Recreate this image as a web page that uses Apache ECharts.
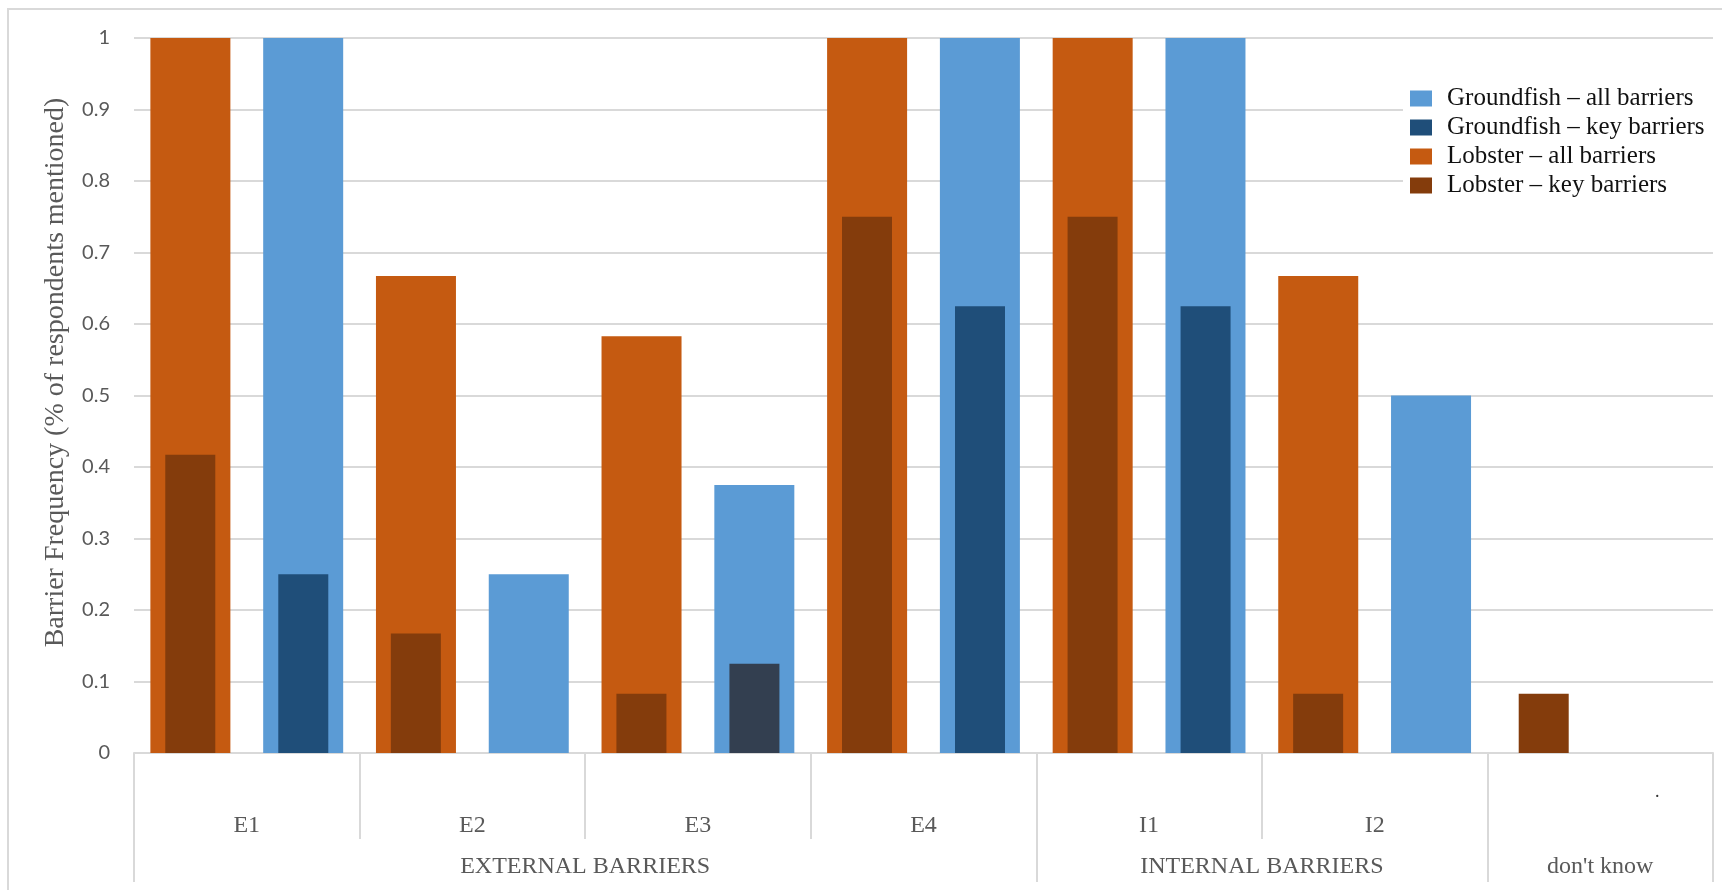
<!DOCTYPE html>
<html><head><meta charset="utf-8">
<script src="https://cdn.jsdelivr.net/npm/echarts@6/dist/echarts.min.js"></script>
<style>html,body{margin:0;padding:0;background:#fff}#c{width:1722px;height:890px}</style>
</head><body><div id="c"></div>
<script>
// ---- data ----
const categories = ['E1', 'E2', 'E3', 'E4', 'I1', 'I2', "don't know"];
const categoryLabels = ['E1', 'E2', 'E3', 'E4', 'I1', 'I2', '.'];
const groupNames = ['EXTERNAL BARRIERS', 'INTERNAL BARRIERS', "don't know"];
const groupSpans = [4, 2, 1];
const lobsterAll = [1, 0.667, 0.583, 1, 1, 0.667, 0];
const lobsterKey = [0.417, 0.167, 0.083, 0.75, 0.75, 0.083, 0.083];
const groundfishAll = [1, 0.25, 0.375, 1, 1, 0.5, 0];
const groundfishKey = [0.25, 0, 0.125, 0.625, 0.625, 0, 0];
const yMin = 0, yMax = 1, yStep = 0.1;
const seriesNames = ['Groundfish \u2013 all barriers', 'Groundfish \u2013 key barriers', 'Lobster \u2013 all barriers', 'Lobster \u2013 key barriers'];

// ---- derived group positions ----
const groupBounds = [0];
groupSpans.forEach(s => groupBounds.push(groupBounds[groupBounds.length - 1] + s));
const groupCenters = groupSpans.map((s, i) => groupBounds[i] + s / 2);

const SERIF = 'Liberation Serif, Times New Roman, serif';
const GRAY = '#595959';
const LINE = '#d9d9d9';

const chart = echarts.init(document.getElementById('c'), null, {renderer: 'canvas'});
chart.setOption({
  animation: false,
  backgroundColor: '#fff',
  graphic: [{
    type: 'rect', silent: true, z: -10,
    shape: {x: 8, y: 9, width: 1740, height: 910},
    style: {fill: 'none', stroke: LINE, lineWidth: 2}
  }],
  grid: {left: 134, right: 9, top: 38, bottom: 137, containLabel: false},
  legend: {
    orient: 'vertical', left: 1403, top: 78,
    padding: [8, 10, 8, 7], backgroundColor: '#fff',
    itemWidth: 22, itemHeight: 16, itemGap: 4,
    icon: 'rect',
    data: seriesNames,
    textStyle: {fontFamily: SERIF, fontSize: 25, color: '#111', lineHeight: 22, padding: [0, 0, 0, 10]}
  },
  xAxis: [
    {
      type: 'category', data: categoryLabels, position: 'bottom',
      axisLine: {lineStyle: {color: LINE, width: 2}},
      axisTick: {show: true, interval: 0, length: 86, lineStyle: {color: LINE, width: 2}},
      axisLabel: {
        interval: 0, margin: 85, verticalAlign: 'bottom',
        fontFamily: SERIF, fontSize: 24, color: GRAY, lineHeight: 24,
        formatter: v => v === '.' ? '{d|.}' : v,
        rich: {d: {fontFamily: SERIF, fontSize: 18, color: '#333', padding: [0, 0, 67, 114]}}
      },
      splitLine: {show: false}
    },
    {
      type: 'value', min: groupBounds[0], max: groupBounds[groupBounds.length - 1], position: 'bottom',
      axisLine: {show: false},
      axisTick: {show: true, customValues: groupBounds, length: 129, lineStyle: {color: LINE, width: 2}},
      axisLabel: {
        customValues: groupCenters, margin: 102, showMinLabel: true, showMaxLabel: true,
        fontFamily: SERIF, fontSize: 24, color: GRAY, lineHeight: 24,
        formatter: v => { const i = groupCenters.indexOf(v); return i >= 0 ? groupNames[i] : ''; }
      },
      splitLine: {show: false}
    },
    {type: 'category', data: categories, position: 'bottom', show: false}
  ],
  yAxis: {
    type: 'value', min: yMin, max: yMax, interval: yStep,
    name: 'Barrier Frequency (% of respondents mentioned)',
    nameLocation: 'middle', nameRotate: 90, nameGap: 64,
    nameTextStyle: {fontFamily: SERIF, fontSize: 28, color: GRAY, padding: [0, 0, 0, 46]},
    axisLine: {show: false}, axisTick: {show: false},
    axisLabel: {margin: 24, fontFamily: 'Lato, Open Sans, sans-serif', fontSize: 20, color: GRAY},
    splitLine: {lineStyle: {color: LINE, width: 2}}
  },
  series: [
    {name: seriesNames[2], type: 'bar', xAxisIndex: 0, data: lobsterAll, barWidth: 80, barGap: '41%',
     itemStyle: {color: '#C55A11'}},
    {name: seriesNames[0], type: 'bar', xAxisIndex: 0, data: groundfishAll, barWidth: 80, barGap: '41%',
     itemStyle: {color: '#5B9BD5'}},
    {name: seriesNames[3], type: 'bar', xAxisIndex: 2, data: lobsterKey, barWidth: 50, barGap: '126%',
     itemStyle: {color: '#843C0C'}},
    {name: seriesNames[1], type: 'bar', xAxisIndex: 2,
     data: groundfishKey.map((v, i) => categories[i] === 'E3' ? {value: v, itemStyle: {color: '#333F50'}} : v),
     barWidth: 50, barGap: '126%', itemStyle: {color: '#1F4E79'}}
  ]
});
</script></body></html>
